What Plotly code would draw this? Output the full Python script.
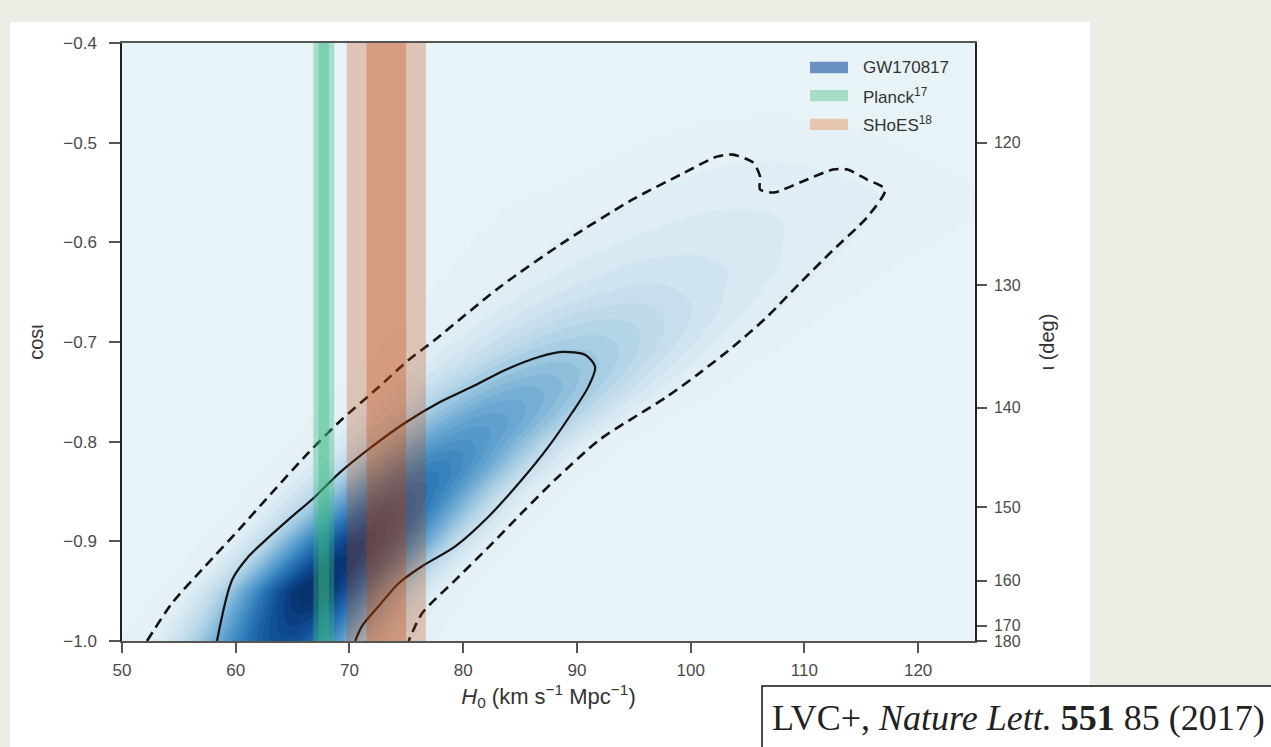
import numpy as np
import plotly.graph_objects as go

# ---------------- axes ----------------
h0_range = [50, 125]
cos_range = [-1.0, -0.4]
h0_ticks = [50, 60, 70, 80, 90, 100, 110, 120]
cos_ticks = [-1.0, -0.9, -0.8, -0.7, -0.6, -0.5, -0.4]
iota_ticks_deg = [120, 130, 140, 150, 160, 170, 180]

# ---------------- external H0 measurements ----------------
planck_h0, planck_sigma = 67.74, 0.46
shoes_h0, shoes_sigma = 73.24, 1.74

# ---------------- GW170817 posterior ----------------
# ridge of the density for rows of cos(iota)
ridge_cos = [-1.0, -0.95, -0.9, -0.85, -0.8, -0.75, -0.7, -0.65, -0.6, -0.55, -0.5, -0.45]
ridge_center = [64.4, 66.7, 70.8, 75.2, 80.0, 85.2, 90.7, 95.8, 101.0, 106.5, 107.0, 107.0]
ridge_left = [12.2, 11.4, 11.5, 11.9, 12.4, 13.1, 13.4, 13.1, 12.1, 10.4, 8.0, 8.0]
ridge_right = [10.9, 11.6, 11.9, 11.5, 11.8, 13.3, 13.5, 13.1, 12.2, 10.3, 8.0, 8.0]
ridge_peak = [0.85, 1.0, 0.9, 0.72, 0.55, 0.42, 0.28, 0.17, 0.11, 0.08, 0.04, 0.0]

# 90% (dashed) and 68% (solid) credible contours
dashed_h0 = [52.2, 54.4, 57.3, 60.3, 63.2, 66.4, 69.3, 72.3, 75.2, 77.5, 83.2, 89.1, 94.9,
             99.3, 102.3, 103.7, 105.5, 106.1, 106.1, 107.3, 109.6, 112.5, 113.8, 115.5,
             117.1, 115.5, 112.5, 109.6, 106.7, 103.7, 100.8, 97.9, 92.0, 88.1, 85.2,
             82.3, 79.3, 76.4, 75.2]
dashed_cos = [-1.0, -0.962, -0.925, -0.888, -0.851, -0.811, -0.778, -0.748, -0.718, -0.698,
              -0.645, -0.598, -0.557, -0.531, -0.514, -0.512, -0.520, -0.534, -0.547,
              -0.550, -0.540, -0.527, -0.527, -0.537, -0.547, -0.575, -0.608, -0.641,
              -0.675, -0.705, -0.731, -0.755, -0.798, -0.838, -0.871, -0.905, -0.939,
              -0.972, -1.0]
solid_h0 = [58.35, 59.67, 61.14, 62.6, 64.66, 67.0, 69.05, 71.98, 74.9, 77.85, 80.77, 83.7,
            86.64, 88.69, 90.74, 91.6, 91.0, 89.57, 87.5, 85.17, 82.24, 79.3, 76.38, 74.33,
            72.57, 71.1, 70.5]
solid_cos = [-1.0, -0.939, -0.915, -0.899, -0.878, -0.855, -0.832, -0.805, -0.781, -0.761,
             -0.745, -0.728, -0.715, -0.71, -0.713, -0.725, -0.745, -0.771, -0.805, -0.838,
             -0.875, -0.905, -0.925, -0.942, -0.965, -0.985, -1.0]

legend_labels = ["GW170817", "Planck<sup>17</sup>", "SHoES<sup>18</sup>"]
citation = "LVC+, <i>Nature Lett.</i> <b>551</b> 85 (2017)"

# ---------------- density table built from the ridge description ----------------
hx = np.linspace(h0_range[0], h0_range[1], 301)
cy = np.linspace(cos_range[0], cos_range[1], 241)
mu = np.interp(cy, ridge_cos, ridge_center)
wl = np.interp(cy, ridge_cos, ridge_left)
wr = np.interp(cy, ridge_cos, ridge_right)
pk = np.interp(cy, ridge_cos, ridge_peak)
lvl = 0.06
fac = np.sqrt(2 * np.log(np.maximum(pk / lvl, 1.5)))
d = hx[None, :] - mu[:, None]
s = np.where(d < 0, (wl / fac)[:, None], (wr / fac)[:, None])
z = pk[:, None] * np.exp(-0.5 * (d / s) ** 2)

blues = [[0.0, '#e8f3f7'], [0.05, '#e0eef5'], [0.12, '#d2e5f0'], [0.22, '#bad8ea'],
         [0.32, '#9bc6df'], [0.45, '#6eaad3'], [0.58, '#4790c5'], [0.7, '#2b76b6'],
         [0.82, '#185ca2'], [0.92, '#0c458b'], [1.0, '#08326d']]

fig = go.Figure()
fig.add_trace(go.Contour(x=hx, y=cy, z=z, colorscale=blues, zmin=0, zmax=1,
                         contours=dict(start=0.02, end=1.0, size=0.035, coloring='fill'),
                         line=dict(width=0), showscale=False, hoverinfo='skip'))

fig.add_trace(go.Scatter(x=dashed_h0, y=dashed_cos, mode='lines', hoverinfo='skip',
                         line=dict(color='#111', width=2.6, dash='10px,6px',
                                   shape='spline', smoothing=0.7)))
fig.add_trace(go.Scatter(x=solid_h0, y=solid_cos, mode='lines', hoverinfo='skip',
                         line=dict(color='#111', width=2.2, shape='spline', smoothing=0.8)))

def band(center, sig, nsig, color):
    lo, hi = center - nsig * sig, center + nsig * sig
    return go.Scatter(x=[lo, lo, hi, hi, lo],
                      y=[cos_range[0], cos_range[1], cos_range[1], cos_range[0], cos_range[0]],
                      mode='lines', line=dict(width=0), fill='toself', fillcolor=color,
                      hoverinfo='skip')

fig.add_trace(band(planck_h0, planck_sigma, 2, 'rgba(58,186,127,0.37)'))
fig.add_trace(band(planck_h0, planck_sigma, 1, 'rgba(58,186,127,0.38)'))
fig.add_trace(band(shoes_h0, shoes_sigma, 2, 'rgba(195,64,0,0.26)'))
fig.add_trace(band(shoes_h0, shoes_sigma, 1, 'rgba(195,64,0,0.30)'))

iota_vals = list(np.cos(np.radians(iota_ticks_deg)))
fig.add_trace(go.Scatter(x=[h0_range[0]] * len(iota_vals), y=iota_vals, yaxis='y2',
                         mode='markers', marker=dict(opacity=0), hoverinfo='skip'))

tickfont = dict(family='Liberation Sans, Arial, sans-serif', size=17, color='#4a4a4a')
titlefont = dict(family='Liberation Sans, Arial, sans-serif', size=20, color='#333')
fig.update_layout(
    width=1271, height=747, autosize=False,
    margin=dict(l=122, r=296, t=43, b=106),
    paper_bgcolor='#ecede5', plot_bgcolor='#e8f3f7',
    font=dict(family='Liberation Sans, Arial, sans-serif', size=14, color='#444'),
    showlegend=False,
    xaxis=dict(range=h0_range, tickvals=h0_ticks, ticks='outside', ticklen=10, tickwidth=1.5,
               tickcolor='#555', showline=True, linecolor='#555', linewidth=2, mirror=True,
               showgrid=False, zeroline=False, tickfont=tickfont, ticklabelstandoff=3,
               title=dict(text='<i>H</i><sub>0</sub> (km s<sup>−1</sup> Mpc<sup>−1</sup>)',
                          standoff=9, font=dict(titlefont, size=22))),
    yaxis=dict(range=cos_range, tickvals=cos_ticks, tickformat='.1f', ticks='outside',
               ticklen=11, tickwidth=1.5, tickcolor='#555', showline=True, linecolor='#222',
               linewidth=1.5, mirror=True, showgrid=False, zeroline=False, tickfont=tickfont,
               ticklabelstandoff=9,
               title=dict(text='cosι', standoff=14, font=titlefont)),
    yaxis2=dict(overlaying='y', side='right', range=cos_range, tickvals=iota_vals,
                ticktext=[str(v) for v in iota_ticks_deg], ticks='outside', ticklen=10,
                tickwidth=1.5, tickcolor='#555', showline=True, linecolor='#222', linewidth=1.5,
                showgrid=False, zeroline=False, tickfont=dict(tickfont, size=16),
                ticklabelstandoff=4,
                title=dict(text='ι (deg)', standoff=20, font=titlefont)),
)

shapes = [
    dict(type='rect', xref='paper', yref='paper', x0=-0.1313, x1=1.1348, y0=-0.2, y1=1.0351,
         fillcolor='white', line=dict(width=0), layer='below'),
    dict(type='rect', xref='paper', yref='paper', x0=0.7503, x1=1.36, y0=-0.0753, y1=-0.21,
         fillcolor='white', line=dict(color='#111', width=1.5), layer='above'),
]
leg_colors = ['#6b90c2', '#a6ddc6', '#e6c6ae']
leg_y = [0.959, 0.912, 0.864]
annotations = []
for lab, col, yy in zip(legend_labels, leg_colors, leg_y):
    shapes.append(dict(type='rect', xref='paper', yref='paper', x0=0.8066, x1=0.8511,
                       y0=yy - 0.0095, y1=yy + 0.0095, fillcolor=col, line=dict(width=0),
                       layer='above'))
    annotations.append(dict(xref='paper', yref='paper', x=0.866, y=yy, text=lab,
                            showarrow=False, xanchor='left', yanchor='middle',
                            font=dict(size=17, color='#333')))
annotations.append(dict(xref='paper', yref='paper', x=0.7597, y=-0.128, text=citation,
                        showarrow=False, xanchor='left', yanchor='middle',
                        font=dict(family='Liberation Serif, Times New Roman, serif', size=36,
                                  color='#222')))
fig.update_layout(shapes=shapes, annotations=annotations)

fig.write_html("out.html")
